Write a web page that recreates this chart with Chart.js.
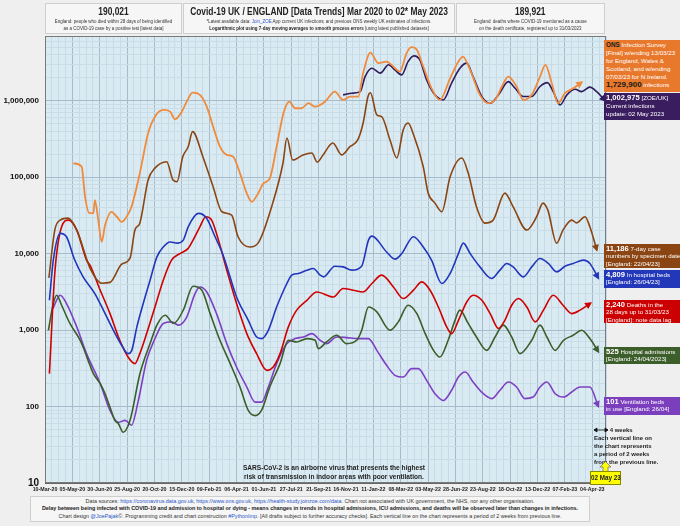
<!DOCTYPE html>
<html><head><meta charset="utf-8">
<script src="https://cdn.jsdelivr.net/npm/chart.js@4.4.1/dist/chart.umd.min.js"></script>
<style>
html,body{margin:0;padding:0;}
body{width:680px;height:526px;overflow:hidden;position:relative;background:#efefef;font-family:"Liberation Sans",Arial,sans-serif;}
#cv{position:absolute;left:0;top:0;}
.hb{position:absolute;background:#f6f6f6;border:1px solid #cfcfcf;text-align:center;color:#222;box-sizing:border-box;overflow:visible;}
.hb .in{position:absolute;left:-40%;width:180%;top:1px;transform:scaleX(0.8);transform-origin:50% 0;white-space:nowrap;text-align:center;}
.hb .big{font-weight:bold;font-size:10.5px;line-height:13px;}
.hb .sm{font-size:5.6px;line-height:6.6px;color:#333;}
.lg{position:absolute;left:604px;width:76px;box-sizing:border-box;padding:1px 2px;color:#fff;font-size:6.2px;line-height:7.4px;white-space:nowrap;}
.lg b{font-size:7.6px;}
.note{position:absolute;left:594px;top:426px;width:86px;font-size:6px;line-height:8px;color:#222;font-weight:bold;}
.ft{position:absolute;left:30px;top:496px;width:560px;height:26px;background:#f6f6f6;border:1px solid #cfcfcf;box-sizing:border-box;text-align:center;font-size:5.4px;line-height:7.3px;color:#333;padding-top:1px;white-space:nowrap;}
.lnk{color:#2a55c8;}
.yel{position:absolute;left:590px;top:471px;width:31px;height:14px;background:#ffff00;border:1px solid #8a8a00;box-sizing:border-box;font-size:6.3px;font-weight:bold;line-height:12px;text-align:center;color:#222;white-space:nowrap;}
</style></head>
<body>
<canvas id="cv" width="680" height="526"></canvas>

<div class="hb" style="left:45px;top:3px;width:137px;height:31px;"><div class="in">
<div class="big">190,021</div>
<div class="sm">England: people who died within 28 days of being identified<br>as a COVID-19 case by a positive test [latest data]</div></div></div>
<div class="hb" style="left:183px;top:3px;width:272px;height:31px;"><div class="in">
<div class="big">Covid-19 UK / ENGLAND [Data Trends] Mar 2020 to 02* May 2023</div>
<div class="sm">*Latest available data: <span class="lnk">Join_ZOE</span> App current UK infections; and previous ONS weekly UK estimates of infections.<br><b style="color:#222">Logarithmic plot using 7-day moving averages to smooth process errors</b> [using latest published datasets]</div></div></div>
<div class="hb" style="left:456px;top:3px;width:149px;height:31px;"><div class="in">
<div class="big">189,921</div>
<div class="sm">England: deaths where COVID-19 mentioned as a cause<br>on the death certificate, registered up to 31/03/2023</div></div></div>

<div class="lg" style="top:40px;height:52px;background:#e8782c;line-height:8px;"><b style="color:#1a1a1a;font-size:6.4px">ONS</b> Infection Survey<br>[Final] w/ending 13/03/23<br>for England, Wales &amp;<br>Scotland, and w/ending<br>07/03/23 for N.Ireland.<br><b style="color:#1a1a1a;font-size:8px">1,729,900</b> infections</div>
<div class="lg" style="top:93px;height:27px;background:#3a1d5e;line-height:8px;"><b>1,002,975</b> [ZOE/UK]<br>Current infections<br>update: 02 May 2023</div>
<div class="lg" style="top:244px;height:24px;background:#8b4513;"><b>11,186</b> 7-day case<br>numbers by specimen date<br>[England: 22/04/23]</div>
<div class="lg" style="top:270px;height:18px;background:#2338b8;"><b>4,809</b> In hospital beds<br>[England: 26/04/23]</div>
<div class="lg" style="top:300px;height:23px;background:#cc0000;"><b>2,240</b> Deaths in the<br>28 days up to 31/03/23<br>[England]: note data lag</div>
<div class="lg" style="top:347px;height:17px;background:#3c5e2b;"><b>525</b> Hospital admissions<br>[England: 24/04/2023]</div>
<div class="lg" style="top:397px;height:18px;background:#7b3fbe;"><b>101</b> Ventilation beds<br>in use [England: 26/04]</div>

<div class="note"><svg width="14" height="6" style="vertical-align:middle"><path d="M0 3 L14 3 M0 3 L3 1 L3 5 Z M14 3 L11 1 L11 5 Z" stroke="#111" fill="#111" stroke-width="0.8"/></svg> 4 weeks<br>Each vertical line on<br>the chart represents<br>a period of 2 weeks<br>from the previous line.</div>

<svg style="position:absolute;left:599px;top:461px" width="13" height="11"><path d="M6.5 0.5 L12 6 L9 6 L9 10.5 L4 10.5 L4 6 L1 6 Z" fill="#ffff00" stroke="#777" stroke-width="0.8"/></svg>
<div class="yel">02 May 23</div>

<div class="ft">Data sources: <span class="lnk">https://coronavirus.data.gov.uk</span>, <span class="lnk">https://www.ons.gov.uk</span>, <span class="lnk">https://health-study.joinzoe.com/data</span>. Chart not associated with UK government, the NHS, nor any other organisation.<br><b style="color:#222">Delay between being infected with COVID-19 and admission to hospital or dying - means changes in trends in hospital admissions, ICU admissions, and deaths will be observed later than changes in infections.</b><br>Chart design <span class="lnk">@JoePajak</span>©. Programming credit and chart construction <span class="lnk">#PythonImp</span>. [All drafts subject to further accuracy checks]. Each vertical line on the chart represents a period of 2 weeks from previous line.</div>

<script>
// ---- Data (day offsets from 10-Mar-2020) ----
const startDate = '10-Mar-2020';
const xTickLabels = ['10-Mar-20','05-May-20','30-Jun-20','25-Aug-20','20-Oct-20','15-Dec-20','09-Feb-21','06-Apr-21','01-Jun-21','27-Jul-21','21-Sep-21','16-Nov-21','11-Jan-22','08-Mar-22','03-May-22','28-Jun-22','23-Aug-22','18-Oct-22','13-Dec-22','07-Feb-23','04-Apr-23'];
const yTickValues = [10,100,1000,10000,100000,1000000];
const yTickLabels = ['10','100','1,000','10,000','100,000','1,000,000'];

const onsDays = [58,75,82,91,99,102,109,116,123,136,147,157,167,177,194,211,225,242,256,266,280,290,302,317,331,344,358,372,385,399,413,423,436,447,460,474,488,500,512,525,539,553,573,593,610,624,641,651,666,682,699,709,726,740,750,761,774,791,808,829,846,855,870,890,907,921,935,948,965,979,996,1013,1024,1037,1050,1064,1081,1098];
const onsValues = [151000,137000,55300,33800,33800,50100,27400,14200,23600,35200,30300,26000,30300,40900,112000,374000,617000,755000,718000,570000,718000,970000,1270000,1190000,834000,457000,250000,195000,185000,112000,61200,47500,61200,82600,96100,250000,684000,970000,795000,795000,925000,834000,970000,1310000,1020000,1130000,1130000,2290000,4250000,3090000,3240000,2940000,2400000,4180000,5000000,4610000,2790000,1450000,1020000,1960000,3240000,3770000,2520000,1190000,925000,1020000,1530000,2060000,1530000,1020000,1190000,2060000,2940000,1690000,925000,1250000,1450000,1729900];

const zoeDays = [610,628,645,655,669,686,703,716,730,743,755,767,781,798,815,832,849,863,876,894,911,928,948,962,979,996,1013,1028,1040,1054,1068,1085,1098,1115,1129,1146];
const zoeValues = [1190000,1250000,1310000,2060000,2650000,2290000,2940000,2520000,2170000,3240000,3850000,3410000,1870000,1190000,1020000,1690000,2650000,3090000,2060000,1130000,925000,1190000,1770000,1450000,1130000,1130000,1530000,1720000,1310000,879000,1190000,1410000,1310000,1500000,1310000,1002975];

const casesDays = [8,20,31,47,65,86,92,116,133,157,174,184,194,211,225,249,262,270,282,293,302,323,344,362,382,395,419,436,466,487,495,507,528,546,557,569,589,607,624,640,651,661,666,679,689,706,720,733,743,753,774,784,798,812,829,853,866,883,900,917,941,958,986,1006,1019,1029,1047,1060,1078,1088,1105,1115,1129];
const casesValues = [4800,20300,27400,29100,20300,8200,6440,4100,4200,7260,8700,20300,25000,91600,131000,159000,91600,86900,185000,250000,393000,185000,74800,35200,31800,16600,12200,13700,45700,153000,324000,167000,195000,207000,157000,195000,279000,195000,250000,306000,510000,1130000,1270000,650000,617000,306000,178000,414000,510000,378000,137000,61800,45700,35200,101000,178000,113000,40900,25000,27400,61800,40900,20300,30300,45700,37000,13700,20300,27400,25200,30300,22400,11186];

const bedsDays = [9,17,31,44,60,78,102,123,140,157,170,177,188,201,215,229,242,256,270,283,293,314,331,348,362,370,392,416,433,443,457,474,495,505,518,536,549,563,570,593,610,628,648,662,669,699,716,730,754,774,791,812,829,846,856,870,890,914,931,945,958,979,996,1013,1030,1047,1064,1081,1102,1115,1132];
const bedsValues = [2450,8200,18400,16600,8500,4960,3000,1640,993,632,492,530,1100,2220,4490,9060,12200,14200,13700,15000,22400,33500,28800,16600,10500,7500,2710,1340,811,773,993,2000,4060,5220,5490,6070,6380,5220,4960,6840,6700,6070,6840,15000,16900,10500,8450,10000,16600,12200,8200,4060,5490,10000,13700,10000,6700,4720,6070,7430,6700,4960,6700,8630,7430,5770,6840,7430,8200,7430,4809];

const deathsDays = [9,20,34,48,65,85,92,113,133,153,170,184,194,208,225,242,259,276,293,303,317,329,341,355,372,392,413,433,454,467,481,498,515,536,556,590,610,631,651,669,689,713,733,754,771,788,805,822,832,846,863,876,894,911,928,941,955,969,986,1003,1020,1040,1060,1078,1095,1116];
const deathsValues = [269,5490,22400,27400,20300,8200,7050,3320,1640,735,444,364,492,899,2000,4490,8200,10000,11700,15000,22400,30300,27400,15000,6070,2220,899,492,297,329,492,1100,1820,2450,3150,2710,3490,3320,3150,4060,5220,3660,2580,3320,4260,3320,2000,1100,899,1340,2330,2850,2450,1640,1050,1340,2110,2580,2000,1280,1820,2850,2110,1640,1820,2240];

const admDays = [7,17,24,34,51,72,78,92,99,113,123,133,143,150,160,174,194,215,229,246,263,283,303,321,338,358,379,399,416,430,443,460,481,498,515,536,553,559,576,597,617,638,648,662,679,706,723,743,761,778,795,808,825,839,849,866,883,904,921,938,955,972,996,1013,1027,1044,1061,1081,1098,1115,1132];
const admValues = [993,2220,2850,2110,1220,735,600,346,269,199,147,98,66,60,46,66,264,665,1160,1560,1220,1820,3740,3320,1640,735,364,180,89,76,89,180,364,735,698,773,735,572,698,855,665,735,993,2000,1730,993,1280,2110,1640,899,543,444,735,1340,1820,1220,811,543,811,1160,811,492,735,1160,811,543,735,855,993,773,525];

const ventDays = [16,31,44,65,85,113,133,150,164,177,191,208,225,242,259,273,290,307,317,331,351,372,392,413,430,443,457,474,495,512,529,546,563,576,597,617,641,662,679,699,716,733,750,764,781,798,815,832,846,860,876,897,914,931,948,965,982,999,1013,1027,1044,1061,1078,1095,1115,1132];
const ventValues = [1900,2850,2220,1100,492,199,89,62,66,57,120,402,773,1220,1280,1160,1480,3000,3660,3150,1640,665,329,180,114,114,180,364,665,773,811,899,735,665,811,797,773,773,543,346,256,243,313,313,220,147,120,163,243,283,209,147,127,163,209,180,127,133,180,209,147,133,155,180,180,101];

const xMaxDay = 1148; // 02-May-2023
const FONT = '"Liberation Sans", Arial, sans-serif';

function pts(days, vals){ return days.map((d,i)=>({x:d,y:vals[i]})); }
function ds(label, days, vals, color, width){
  return {label, data:pts(days,vals), borderColor:color, backgroundColor:color, borderWidth:width||1.6,
    pointRadius:0, cubicInterpolationMode:'monotone', fill:false, arrowColor:color};
}

const bgPlugin = {
  id:'bg',
  beforeDraw(chart){
    const {ctx, chartArea:a} = chart;
    ctx.save(); ctx.fillStyle = '#d9eaf2'; ctx.fillRect(a.left,a.top,a.right-a.left,a.bottom-a.top); ctx.restore();
  },
  afterDraw(chart){
    const {ctx, chartArea:a} = chart;
    ctx.save(); ctx.strokeStyle='#7a7a7a'; ctx.lineWidth=1;
    ctx.strokeRect(a.left+0.5,a.top+0.5,a.right-a.left-1,a.bottom-a.top-1);
    ctx.restore();
    ctx.save(); ctx.fillStyle='#222'; ctx.font='bold 6.6px '+FONT; ctx.textAlign='center';
    ctx.fillText('SARS-CoV-2 is an airborne virus that presents the highest', 334, 470);
    ctx.fillText('risk of transmission in indoor areas with poor ventilation.', 334, 479);
    ctx.restore();
  }
};
const arrowPlugin = {
  id:'arrows',
  afterDatasetsDraw(chart){
    const ctx = chart.ctx;
    chart.data.datasets.forEach((d,i)=>{
      const m = chart.getDatasetMeta(i).data; if(m.length<2) return;
      const p = m[m.length-1], q = m[m.length-2];
      const ang = Math.atan2(p.y-q.y, p.x-q.x), L=7, W=3.6;
      ctx.save(); ctx.translate(p.x,p.y); ctx.rotate(ang);
      ctx.fillStyle = d.arrowColor; ctx.beginPath();
      ctx.moveTo(2,0); ctx.lineTo(-L+2,-W); ctx.lineTo(-L+2,W); ctx.closePath(); ctx.fill();
      ctx.restore();
    });
  }
};

const isPow10 = v => Math.abs(Math.log10(v) - Math.round(Math.log10(v))) < 1e-9;
const yAll = [];
for (let e=1;e<=6;e++){ for (let k=1;k<=9;k++){ const v=k*Math.pow(10,e); if (v<=7000000) yAll.push(v); } }

new Chart(document.getElementById('cv'), {
  type:'line',
  data:{ datasets:[
    ds('ONS infections', onsDays, onsValues, '#f08a3c', 1.8),
    ds('ZOE infections', zoeDays, zoeValues, '#2e1a5c', 1.6),
    ds('7-day cases', casesDays, casesValues, '#8b4513', 1.6),
    ds('In hospital beds', bedsDays, bedsValues, '#2236bd', 1.6),
    ds('Deaths (28 days)', deathsDays, deathsValues, '#d00000', 1.6),
    ds('Hospital admissions', admDays, admValues, '#3b5e2a', 1.6),
    ds('Ventilation beds', ventDays, ventValues, '#7e40c2', 1.6)
  ]},
  options:{
    responsive:false, animation:false, devicePixelRatio:1,
    layout:{padding:{left:0,top:36,right:74,bottom:29}},
    plugins:{legend:{display:false}, tooltip:{enabled:false}},
    scales:{
      x:{type:'linear', min:0, max:xMaxDay,
        afterBuildTicks(s){ const t=[]; for(let d=0; d<=xMaxDay; d+=14) t.push({value:d}); s.ticks=t; },
        afterFit(s){ s.height=14; },
        ticks:{autoSkip:false, maxRotation:0, minRotation:0, padding:3, color:'#222',
          font:{family:FONT, size:5.3, weight:'bold'},
          callback(v){ return (v%56===0 && v/56 < xTickLabels.length) ? xTickLabels[v/56] : ''; }},
        grid:{drawTicks:false, lineWidth:1, color(c){ return (c.tick && c.tick.value%56===0) ? '#a7bccb' : '#c6dbe6'; }},
        border:{display:true, color:'#666'}
      },
      y:{type:'logarithmic', min:10, max:7000000,
        afterBuildTicks(s){ s.ticks = yAll.map(v=>({value:v, major:isPow10(v)})); },
        afterFit(s){ s.width=45; },
        ticks:{autoSkip:false, padding:6, color:'#111',
          font(c){ return {family:FONT, weight:'bold', size:(c.tick && c.tick.value===10)?10:8}; },
          callback(v){ const i = yTickValues.indexOf(v); return i>=0 ? yTickLabels[i] : ''; }},
        grid:{drawTicks:false, lineWidth:1, color(c){ return (c.tick && isPow10(c.tick.value)) ? '#a7bccb' : '#c9dde7'; }},
        border:{display:true, color:'#555'}
      }
    }
  },
  plugins:[bgPlugin, arrowPlugin]
});
</script>
</body></html>
